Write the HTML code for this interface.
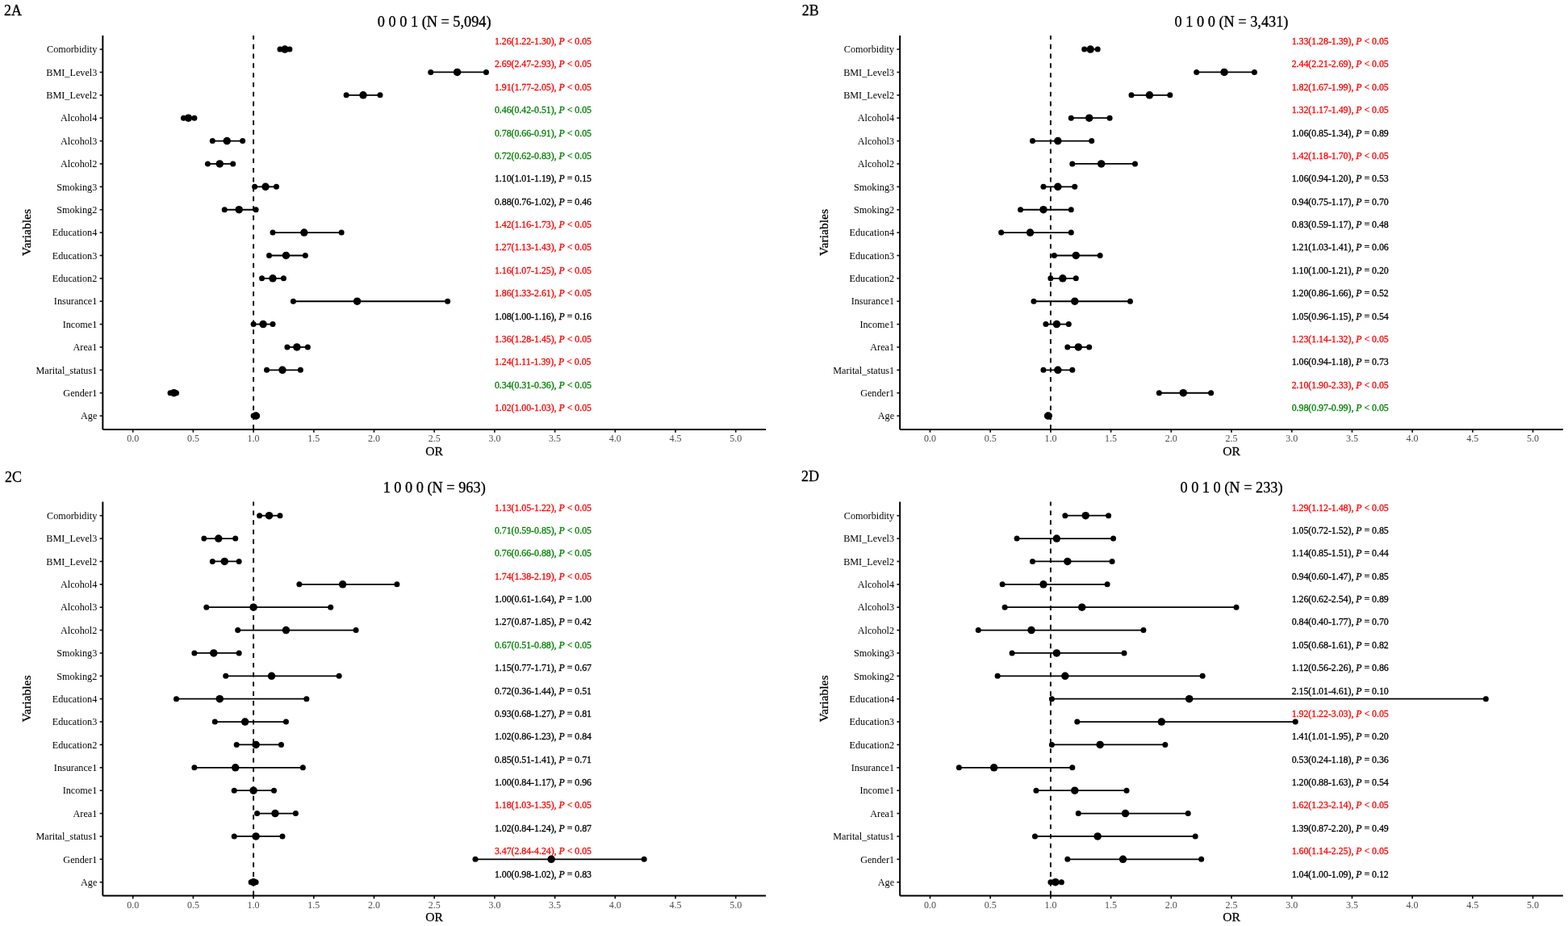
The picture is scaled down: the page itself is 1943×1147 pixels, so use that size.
<!DOCTYPE html><html><head><meta charset="utf-8"><title>Forest plots</title><style>html,body{margin:0;padding:0;background:#fff;}svg{display:block;}text{font-family:"Liberation Serif","Times New Roman",serif;stroke-width:0.3;}</style></head><body>
<svg width="1943" height="1147" viewBox="0 0 1943 1147">
<rect width="1943" height="1147" fill="#fff"/>
<g transform="translate(0,0)">
<text x="5.1" y="18.5" font-size="18" stroke="#000">2A</text>
<text x="538.2" y="32.6" font-size="18.3" text-anchor="middle" stroke="#000">0 0 0 1 (N = 5,094)</text>
<line x1="314.1" y1="531.9" x2="314.1" y2="43.9" stroke="#000" stroke-width="1.9" stroke-dasharray="5.89 5.89"/>
<line x1="123.6" y1="61.1" x2="127.35" y2="61.1" stroke="#111" stroke-width="1.6"/>
<text x="120.3" y="65.35" font-size="12.2" text-anchor="end">Comorbidity</text>
<line x1="123.6" y1="89.47" x2="127.35" y2="89.47" stroke="#111" stroke-width="1.6"/>
<text x="120.3" y="93.72" font-size="12.2" text-anchor="end">BMI_Level3</text>
<line x1="123.6" y1="117.85" x2="127.35" y2="117.85" stroke="#111" stroke-width="1.6"/>
<text x="120.3" y="122.1" font-size="12.2" text-anchor="end">BMI_Level2</text>
<line x1="123.6" y1="146.22" x2="127.35" y2="146.22" stroke="#111" stroke-width="1.6"/>
<text x="120.3" y="150.47" font-size="12.2" text-anchor="end">Alcohol4</text>
<line x1="123.6" y1="174.6" x2="127.35" y2="174.6" stroke="#111" stroke-width="1.6"/>
<text x="120.3" y="178.85" font-size="12.2" text-anchor="end">Alcohol3</text>
<line x1="123.6" y1="202.97" x2="127.35" y2="202.97" stroke="#111" stroke-width="1.6"/>
<text x="120.3" y="207.22" font-size="12.2" text-anchor="end">Alcohol2</text>
<line x1="123.6" y1="231.35" x2="127.35" y2="231.35" stroke="#111" stroke-width="1.6"/>
<text x="120.3" y="235.6" font-size="12.2" text-anchor="end">Smoking3</text>
<line x1="123.6" y1="259.73" x2="127.35" y2="259.73" stroke="#111" stroke-width="1.6"/>
<text x="120.3" y="263.98" font-size="12.2" text-anchor="end">Smoking2</text>
<line x1="123.6" y1="288.1" x2="127.35" y2="288.1" stroke="#111" stroke-width="1.6"/>
<text x="120.3" y="292.35" font-size="12.2" text-anchor="end">Education4</text>
<line x1="123.6" y1="316.48" x2="127.35" y2="316.48" stroke="#111" stroke-width="1.6"/>
<text x="120.3" y="320.73" font-size="12.2" text-anchor="end">Education3</text>
<line x1="123.6" y1="344.85" x2="127.35" y2="344.85" stroke="#111" stroke-width="1.6"/>
<text x="120.3" y="349.1" font-size="12.2" text-anchor="end">Education2</text>
<line x1="123.6" y1="373.23" x2="127.35" y2="373.23" stroke="#111" stroke-width="1.6"/>
<text x="120.3" y="377.48" font-size="12.2" text-anchor="end">Insurance1</text>
<line x1="123.6" y1="401.6" x2="127.35" y2="401.6" stroke="#111" stroke-width="1.6"/>
<text x="120.3" y="405.85" font-size="12.2" text-anchor="end">Income1</text>
<line x1="123.6" y1="429.98" x2="127.35" y2="429.98" stroke="#111" stroke-width="1.6"/>
<text x="120.3" y="434.23" font-size="12.2" text-anchor="end">Area1</text>
<line x1="123.6" y1="458.35" x2="127.35" y2="458.35" stroke="#111" stroke-width="1.6"/>
<text x="120.3" y="462.6" font-size="12.2" text-anchor="end">Marital_status1</text>
<line x1="123.6" y1="486.73" x2="127.35" y2="486.73" stroke="#111" stroke-width="1.6"/>
<text x="120.3" y="490.98" font-size="12.2" text-anchor="end">Gender1</text>
<line x1="123.6" y1="515.1" x2="127.35" y2="515.1" stroke="#111" stroke-width="1.6"/>
<text x="120.3" y="519.35" font-size="12.2" text-anchor="end">Age</text>
<line x1="164.7" y1="531.9" x2="164.7" y2="535.65" stroke="#111" stroke-width="1.7"/>
<text x="164.7" y="547.3" font-size="12" text-anchor="middle" fill="#4d4d4d">0.0</text>
<line x1="239.4" y1="531.9" x2="239.4" y2="535.65" stroke="#111" stroke-width="1.7"/>
<text x="239.4" y="547.3" font-size="12" text-anchor="middle" fill="#4d4d4d">0.5</text>
<line x1="314.1" y1="531.9" x2="314.1" y2="535.65" stroke="#111" stroke-width="1.7"/>
<text x="314.1" y="547.3" font-size="12" text-anchor="middle" fill="#4d4d4d">1.0</text>
<line x1="388.8" y1="531.9" x2="388.8" y2="535.65" stroke="#111" stroke-width="1.7"/>
<text x="388.8" y="547.3" font-size="12" text-anchor="middle" fill="#4d4d4d">1.5</text>
<line x1="463.5" y1="531.9" x2="463.5" y2="535.65" stroke="#111" stroke-width="1.7"/>
<text x="463.5" y="547.3" font-size="12" text-anchor="middle" fill="#4d4d4d">2.0</text>
<line x1="538.2" y1="531.9" x2="538.2" y2="535.65" stroke="#111" stroke-width="1.7"/>
<text x="538.2" y="547.3" font-size="12" text-anchor="middle" fill="#4d4d4d">2.5</text>
<line x1="612.9" y1="531.9" x2="612.9" y2="535.65" stroke="#111" stroke-width="1.7"/>
<text x="612.9" y="547.3" font-size="12" text-anchor="middle" fill="#4d4d4d">3.0</text>
<line x1="687.6" y1="531.9" x2="687.6" y2="535.65" stroke="#111" stroke-width="1.7"/>
<text x="687.6" y="547.3" font-size="12" text-anchor="middle" fill="#4d4d4d">3.5</text>
<line x1="762.3" y1="531.9" x2="762.3" y2="535.65" stroke="#111" stroke-width="1.7"/>
<text x="762.3" y="547.3" font-size="12" text-anchor="middle" fill="#4d4d4d">4.0</text>
<line x1="837" y1="531.9" x2="837" y2="535.65" stroke="#111" stroke-width="1.7"/>
<text x="837" y="547.3" font-size="12" text-anchor="middle" fill="#4d4d4d">4.5</text>
<line x1="911.7" y1="531.9" x2="911.7" y2="535.65" stroke="#111" stroke-width="1.7"/>
<text x="911.7" y="547.3" font-size="12" text-anchor="middle" fill="#4d4d4d">5.0</text>
<line x1="127.35" y1="43.9" x2="127.35" y2="531.9" stroke="#000" stroke-width="2.0"/>
<line x1="127.35" y1="531.9" x2="949.05" y2="531.9" stroke="#000" stroke-width="2.0"/>
<text x="538.2" y="563.8" font-size="15.6" text-anchor="middle" stroke="#000">OR</text>
<text transform="translate(37.9,287.9) rotate(-90)" x="0" y="0" font-size="15.6" text-anchor="middle" stroke="#000">Variables</text>
<text x="612.9" y="55" font-size="11.8" fill="#ff0000" stroke="#ff0000" stroke-width="0.2">1.26(1.22-1.30), <tspan font-style="italic">P</tspan> &lt; 0.05</text>
<text x="612.9" y="83.38" font-size="11.8" fill="#ff0000" stroke="#ff0000" stroke-width="0.2">2.69(2.47-2.93), <tspan font-style="italic">P</tspan> &lt; 0.05</text>
<text x="612.9" y="111.75" font-size="11.8" fill="#ff0000" stroke="#ff0000" stroke-width="0.2">1.91(1.77-2.05), <tspan font-style="italic">P</tspan> &lt; 0.05</text>
<text x="612.9" y="140.12" font-size="11.8" fill="#008000" stroke="#008000" stroke-width="0.2">0.46(0.42-0.51), <tspan font-style="italic">P</tspan> &lt; 0.05</text>
<text x="612.9" y="168.5" font-size="11.8" fill="#008000" stroke="#008000" stroke-width="0.2">0.78(0.66-0.91), <tspan font-style="italic">P</tspan> &lt; 0.05</text>
<text x="612.9" y="196.88" font-size="11.8" fill="#008000" stroke="#008000" stroke-width="0.2">0.72(0.62-0.83), <tspan font-style="italic">P</tspan> &lt; 0.05</text>
<text x="612.9" y="225.25" font-size="11.8" fill="#000000" stroke="#000000" stroke-width="0.2">1.10(1.01-1.19), <tspan font-style="italic">P</tspan> = 0.15</text>
<text x="612.9" y="253.63" font-size="11.8" fill="#000000" stroke="#000000" stroke-width="0.2">0.88(0.76-1.02), <tspan font-style="italic">P</tspan> = 0.46</text>
<text x="612.9" y="282" font-size="11.8" fill="#ff0000" stroke="#ff0000" stroke-width="0.2">1.42(1.16-1.73), <tspan font-style="italic">P</tspan> &lt; 0.05</text>
<text x="612.9" y="310.38" font-size="11.8" fill="#ff0000" stroke="#ff0000" stroke-width="0.2">1.27(1.13-1.43), <tspan font-style="italic">P</tspan> &lt; 0.05</text>
<text x="612.9" y="338.75" font-size="11.8" fill="#ff0000" stroke="#ff0000" stroke-width="0.2">1.16(1.07-1.25), <tspan font-style="italic">P</tspan> &lt; 0.05</text>
<text x="612.9" y="367.12" font-size="11.8" fill="#ff0000" stroke="#ff0000" stroke-width="0.2">1.86(1.33-2.61), <tspan font-style="italic">P</tspan> &lt; 0.05</text>
<text x="612.9" y="395.5" font-size="11.8" fill="#000000" stroke="#000000" stroke-width="0.2">1.08(1.00-1.16), <tspan font-style="italic">P</tspan> = 0.16</text>
<text x="612.9" y="423.88" font-size="11.8" fill="#ff0000" stroke="#ff0000" stroke-width="0.2">1.36(1.28-1.45), <tspan font-style="italic">P</tspan> &lt; 0.05</text>
<text x="612.9" y="452.25" font-size="11.8" fill="#ff0000" stroke="#ff0000" stroke-width="0.2">1.24(1.11-1.39), <tspan font-style="italic">P</tspan> &lt; 0.05</text>
<text x="612.9" y="480.62" font-size="11.8" fill="#008000" stroke="#008000" stroke-width="0.2">0.34(0.31-0.36), <tspan font-style="italic">P</tspan> &lt; 0.05</text>
<text x="612.9" y="509" font-size="11.8" fill="#ff0000" stroke="#ff0000" stroke-width="0.2">1.02(1.00-1.03), <tspan font-style="italic">P</tspan> &lt; 0.05</text>
<line x1="346.97" y1="61.1" x2="358.92" y2="61.1" stroke="#000" stroke-width="1.8"/>
<circle cx="346.97" cy="61.1" r="3.5"/><circle cx="358.92" cy="61.1" r="3.5"/>
<circle cx="352.94" cy="61.1" r="4.75"/>
<line x1="533.72" y1="89.47" x2="602.44" y2="89.47" stroke="#000" stroke-width="1.8"/>
<circle cx="533.72" cy="89.47" r="3.5"/><circle cx="602.44" cy="89.47" r="3.5"/>
<circle cx="566.59" cy="89.47" r="4.75"/>
<line x1="429.14" y1="117.85" x2="470.97" y2="117.85" stroke="#000" stroke-width="1.8"/>
<circle cx="429.14" cy="117.85" r="3.5"/><circle cx="470.97" cy="117.85" r="3.5"/>
<circle cx="450.05" cy="117.85" r="4.75"/>
<line x1="227.45" y1="146.22" x2="240.89" y2="146.22" stroke="#000" stroke-width="1.8"/>
<circle cx="227.45" cy="146.22" r="3.5"/><circle cx="240.89" cy="146.22" r="3.5"/>
<circle cx="233.42" cy="146.22" r="4.75"/>
<line x1="263.3" y1="174.6" x2="300.65" y2="174.6" stroke="#000" stroke-width="1.8"/>
<circle cx="263.3" cy="174.6" r="3.5"/><circle cx="300.65" cy="174.6" r="3.5"/>
<circle cx="281.23" cy="174.6" r="4.75"/>
<line x1="257.33" y1="202.97" x2="288.7" y2="202.97" stroke="#000" stroke-width="1.8"/>
<circle cx="257.33" cy="202.97" r="3.5"/><circle cx="288.7" cy="202.97" r="3.5"/>
<circle cx="272.27" cy="202.97" r="4.75"/>
<line x1="315.59" y1="231.35" x2="342.49" y2="231.35" stroke="#000" stroke-width="1.8"/>
<circle cx="315.59" cy="231.35" r="3.5"/><circle cx="342.49" cy="231.35" r="3.5"/>
<circle cx="329.04" cy="231.35" r="4.75"/>
<line x1="278.24" y1="259.73" x2="317.09" y2="259.73" stroke="#000" stroke-width="1.8"/>
<circle cx="278.24" cy="259.73" r="3.5"/><circle cx="317.09" cy="259.73" r="3.5"/>
<circle cx="296.17" cy="259.73" r="4.75"/>
<line x1="338" y1="288.1" x2="423.16" y2="288.1" stroke="#000" stroke-width="1.8"/>
<circle cx="338" cy="288.1" r="3.5"/><circle cx="423.16" cy="288.1" r="3.5"/>
<circle cx="376.85" cy="288.1" r="4.75"/>
<line x1="333.52" y1="316.48" x2="378.34" y2="316.48" stroke="#000" stroke-width="1.8"/>
<circle cx="333.52" cy="316.48" r="3.5"/><circle cx="378.34" cy="316.48" r="3.5"/>
<circle cx="354.44" cy="316.48" r="4.75"/>
<line x1="324.56" y1="344.85" x2="351.45" y2="344.85" stroke="#000" stroke-width="1.8"/>
<circle cx="324.56" cy="344.85" r="3.5"/><circle cx="351.45" cy="344.85" r="3.5"/>
<circle cx="338" cy="344.85" r="4.75"/>
<line x1="363.4" y1="373.23" x2="554.63" y2="373.23" stroke="#000" stroke-width="1.8"/>
<circle cx="363.4" cy="373.23" r="3.5"/><circle cx="554.63" cy="373.23" r="3.5"/>
<circle cx="442.58" cy="373.23" r="4.75"/>
<line x1="314.1" y1="401.6" x2="338" y2="401.6" stroke="#000" stroke-width="1.8"/>
<circle cx="314.1" cy="401.6" r="3.5"/><circle cx="338" cy="401.6" r="3.5"/>
<circle cx="326.05" cy="401.6" r="4.75"/>
<line x1="355.93" y1="429.98" x2="381.33" y2="429.98" stroke="#000" stroke-width="1.8"/>
<circle cx="355.93" cy="429.98" r="3.5"/><circle cx="381.33" cy="429.98" r="3.5"/>
<circle cx="367.88" cy="429.98" r="4.75"/>
<line x1="330.53" y1="458.35" x2="372.37" y2="458.35" stroke="#000" stroke-width="1.8"/>
<circle cx="330.53" cy="458.35" r="3.5"/><circle cx="372.37" cy="458.35" r="3.5"/>
<circle cx="349.96" cy="458.35" r="4.75"/>
<line x1="211.01" y1="486.73" x2="218.48" y2="486.73" stroke="#000" stroke-width="1.8"/>
<circle cx="211.01" cy="486.73" r="3.5"/><circle cx="218.48" cy="486.73" r="3.5"/>
<circle cx="215.5" cy="486.73" r="4.75"/>
<line x1="314.1" y1="515.1" x2="318.58" y2="515.1" stroke="#000" stroke-width="1.8"/>
<circle cx="314.1" cy="515.1" r="3.5"/><circle cx="318.58" cy="515.1" r="3.5"/>
<circle cx="317.09" cy="515.1" r="4.75"/>
</g>
<g transform="translate(987.8,0)">
<text x="5.9" y="18.5" font-size="18" stroke="#000">2B</text>
<text x="538.2" y="32.6" font-size="18.3" text-anchor="middle" stroke="#000">0 1 0 0 (N = 3,431)</text>
<line x1="314.1" y1="531.9" x2="314.1" y2="43.9" stroke="#000" stroke-width="1.9" stroke-dasharray="5.89 5.89"/>
<line x1="123.6" y1="61.1" x2="127.35" y2="61.1" stroke="#111" stroke-width="1.6"/>
<text x="120.3" y="65.35" font-size="12.2" text-anchor="end">Comorbidity</text>
<line x1="123.6" y1="89.47" x2="127.35" y2="89.47" stroke="#111" stroke-width="1.6"/>
<text x="120.3" y="93.72" font-size="12.2" text-anchor="end">BMI_Level3</text>
<line x1="123.6" y1="117.85" x2="127.35" y2="117.85" stroke="#111" stroke-width="1.6"/>
<text x="120.3" y="122.1" font-size="12.2" text-anchor="end">BMI_Level2</text>
<line x1="123.6" y1="146.22" x2="127.35" y2="146.22" stroke="#111" stroke-width="1.6"/>
<text x="120.3" y="150.47" font-size="12.2" text-anchor="end">Alcohol4</text>
<line x1="123.6" y1="174.6" x2="127.35" y2="174.6" stroke="#111" stroke-width="1.6"/>
<text x="120.3" y="178.85" font-size="12.2" text-anchor="end">Alcohol3</text>
<line x1="123.6" y1="202.97" x2="127.35" y2="202.97" stroke="#111" stroke-width="1.6"/>
<text x="120.3" y="207.22" font-size="12.2" text-anchor="end">Alcohol2</text>
<line x1="123.6" y1="231.35" x2="127.35" y2="231.35" stroke="#111" stroke-width="1.6"/>
<text x="120.3" y="235.6" font-size="12.2" text-anchor="end">Smoking3</text>
<line x1="123.6" y1="259.73" x2="127.35" y2="259.73" stroke="#111" stroke-width="1.6"/>
<text x="120.3" y="263.98" font-size="12.2" text-anchor="end">Smoking2</text>
<line x1="123.6" y1="288.1" x2="127.35" y2="288.1" stroke="#111" stroke-width="1.6"/>
<text x="120.3" y="292.35" font-size="12.2" text-anchor="end">Education4</text>
<line x1="123.6" y1="316.48" x2="127.35" y2="316.48" stroke="#111" stroke-width="1.6"/>
<text x="120.3" y="320.73" font-size="12.2" text-anchor="end">Education3</text>
<line x1="123.6" y1="344.85" x2="127.35" y2="344.85" stroke="#111" stroke-width="1.6"/>
<text x="120.3" y="349.1" font-size="12.2" text-anchor="end">Education2</text>
<line x1="123.6" y1="373.23" x2="127.35" y2="373.23" stroke="#111" stroke-width="1.6"/>
<text x="120.3" y="377.48" font-size="12.2" text-anchor="end">Insurance1</text>
<line x1="123.6" y1="401.6" x2="127.35" y2="401.6" stroke="#111" stroke-width="1.6"/>
<text x="120.3" y="405.85" font-size="12.2" text-anchor="end">Income1</text>
<line x1="123.6" y1="429.98" x2="127.35" y2="429.98" stroke="#111" stroke-width="1.6"/>
<text x="120.3" y="434.23" font-size="12.2" text-anchor="end">Area1</text>
<line x1="123.6" y1="458.35" x2="127.35" y2="458.35" stroke="#111" stroke-width="1.6"/>
<text x="120.3" y="462.6" font-size="12.2" text-anchor="end">Marital_status1</text>
<line x1="123.6" y1="486.73" x2="127.35" y2="486.73" stroke="#111" stroke-width="1.6"/>
<text x="120.3" y="490.98" font-size="12.2" text-anchor="end">Gender1</text>
<line x1="123.6" y1="515.1" x2="127.35" y2="515.1" stroke="#111" stroke-width="1.6"/>
<text x="120.3" y="519.35" font-size="12.2" text-anchor="end">Age</text>
<line x1="164.7" y1="531.9" x2="164.7" y2="535.65" stroke="#111" stroke-width="1.7"/>
<text x="164.7" y="547.3" font-size="12" text-anchor="middle" fill="#4d4d4d">0.0</text>
<line x1="239.4" y1="531.9" x2="239.4" y2="535.65" stroke="#111" stroke-width="1.7"/>
<text x="239.4" y="547.3" font-size="12" text-anchor="middle" fill="#4d4d4d">0.5</text>
<line x1="314.1" y1="531.9" x2="314.1" y2="535.65" stroke="#111" stroke-width="1.7"/>
<text x="314.1" y="547.3" font-size="12" text-anchor="middle" fill="#4d4d4d">1.0</text>
<line x1="388.8" y1="531.9" x2="388.8" y2="535.65" stroke="#111" stroke-width="1.7"/>
<text x="388.8" y="547.3" font-size="12" text-anchor="middle" fill="#4d4d4d">1.5</text>
<line x1="463.5" y1="531.9" x2="463.5" y2="535.65" stroke="#111" stroke-width="1.7"/>
<text x="463.5" y="547.3" font-size="12" text-anchor="middle" fill="#4d4d4d">2.0</text>
<line x1="538.2" y1="531.9" x2="538.2" y2="535.65" stroke="#111" stroke-width="1.7"/>
<text x="538.2" y="547.3" font-size="12" text-anchor="middle" fill="#4d4d4d">2.5</text>
<line x1="612.9" y1="531.9" x2="612.9" y2="535.65" stroke="#111" stroke-width="1.7"/>
<text x="612.9" y="547.3" font-size="12" text-anchor="middle" fill="#4d4d4d">3.0</text>
<line x1="687.6" y1="531.9" x2="687.6" y2="535.65" stroke="#111" stroke-width="1.7"/>
<text x="687.6" y="547.3" font-size="12" text-anchor="middle" fill="#4d4d4d">3.5</text>
<line x1="762.3" y1="531.9" x2="762.3" y2="535.65" stroke="#111" stroke-width="1.7"/>
<text x="762.3" y="547.3" font-size="12" text-anchor="middle" fill="#4d4d4d">4.0</text>
<line x1="837" y1="531.9" x2="837" y2="535.65" stroke="#111" stroke-width="1.7"/>
<text x="837" y="547.3" font-size="12" text-anchor="middle" fill="#4d4d4d">4.5</text>
<line x1="911.7" y1="531.9" x2="911.7" y2="535.65" stroke="#111" stroke-width="1.7"/>
<text x="911.7" y="547.3" font-size="12" text-anchor="middle" fill="#4d4d4d">5.0</text>
<line x1="127.35" y1="43.9" x2="127.35" y2="531.9" stroke="#000" stroke-width="2.0"/>
<line x1="127.35" y1="531.9" x2="949.05" y2="531.9" stroke="#000" stroke-width="2.0"/>
<text x="538.2" y="563.8" font-size="15.6" text-anchor="middle" stroke="#000">OR</text>
<text transform="translate(37.9,287.9) rotate(-90)" x="0" y="0" font-size="15.6" text-anchor="middle" stroke="#000">Variables</text>
<text x="612.9" y="55" font-size="11.8" fill="#ff0000" stroke="#ff0000" stroke-width="0.2">1.33(1.28-1.39), <tspan font-style="italic">P</tspan> &lt; 0.05</text>
<text x="612.9" y="83.38" font-size="11.8" fill="#ff0000" stroke="#ff0000" stroke-width="0.2">2.44(2.21-2.69), <tspan font-style="italic">P</tspan> &lt; 0.05</text>
<text x="612.9" y="111.75" font-size="11.8" fill="#ff0000" stroke="#ff0000" stroke-width="0.2">1.82(1.67-1.99), <tspan font-style="italic">P</tspan> &lt; 0.05</text>
<text x="612.9" y="140.12" font-size="11.8" fill="#ff0000" stroke="#ff0000" stroke-width="0.2">1.32(1.17-1.49), <tspan font-style="italic">P</tspan> &lt; 0.05</text>
<text x="612.9" y="168.5" font-size="11.8" fill="#000000" stroke="#000000" stroke-width="0.2">1.06(0.85-1.34), <tspan font-style="italic">P</tspan> = 0.89</text>
<text x="612.9" y="196.88" font-size="11.8" fill="#ff0000" stroke="#ff0000" stroke-width="0.2">1.42(1.18-1.70), <tspan font-style="italic">P</tspan> &lt; 0.05</text>
<text x="612.9" y="225.25" font-size="11.8" fill="#000000" stroke="#000000" stroke-width="0.2">1.06(0.94-1.20), <tspan font-style="italic">P</tspan> = 0.53</text>
<text x="612.9" y="253.63" font-size="11.8" fill="#000000" stroke="#000000" stroke-width="0.2">0.94(0.75-1.17), <tspan font-style="italic">P</tspan> = 0.70</text>
<text x="612.9" y="282" font-size="11.8" fill="#000000" stroke="#000000" stroke-width="0.2">0.83(0.59-1.17), <tspan font-style="italic">P</tspan> = 0.48</text>
<text x="612.9" y="310.38" font-size="11.8" fill="#000000" stroke="#000000" stroke-width="0.2">1.21(1.03-1.41), <tspan font-style="italic">P</tspan> = 0.06</text>
<text x="612.9" y="338.75" font-size="11.8" fill="#000000" stroke="#000000" stroke-width="0.2">1.10(1.00-1.21), <tspan font-style="italic">P</tspan> = 0.20</text>
<text x="612.9" y="367.12" font-size="11.8" fill="#000000" stroke="#000000" stroke-width="0.2">1.20(0.86-1.66), <tspan font-style="italic">P</tspan> = 0.52</text>
<text x="612.9" y="395.5" font-size="11.8" fill="#000000" stroke="#000000" stroke-width="0.2">1.05(0.96-1.15), <tspan font-style="italic">P</tspan> = 0.54</text>
<text x="612.9" y="423.88" font-size="11.8" fill="#ff0000" stroke="#ff0000" stroke-width="0.2">1.23(1.14-1.32), <tspan font-style="italic">P</tspan> &lt; 0.05</text>
<text x="612.9" y="452.25" font-size="11.8" fill="#000000" stroke="#000000" stroke-width="0.2">1.06(0.94-1.18), <tspan font-style="italic">P</tspan> = 0.73</text>
<text x="612.9" y="480.62" font-size="11.8" fill="#ff0000" stroke="#ff0000" stroke-width="0.2">2.10(1.90-2.33), <tspan font-style="italic">P</tspan> &lt; 0.05</text>
<text x="612.9" y="509" font-size="11.8" fill="#008000" stroke="#008000" stroke-width="0.2">0.98(0.97-0.99), <tspan font-style="italic">P</tspan> &lt; 0.05</text>
<line x1="355.93" y1="61.1" x2="372.37" y2="61.1" stroke="#000" stroke-width="1.8"/>
<circle cx="355.93" cy="61.1" r="3.5"/><circle cx="372.37" cy="61.1" r="3.5"/>
<circle cx="363.4" cy="61.1" r="4.75"/>
<line x1="494.87" y1="89.47" x2="566.59" y2="89.47" stroke="#000" stroke-width="1.8"/>
<circle cx="494.87" cy="89.47" r="3.5"/><circle cx="566.59" cy="89.47" r="3.5"/>
<circle cx="529.24" cy="89.47" r="4.75"/>
<line x1="414.2" y1="117.85" x2="462.01" y2="117.85" stroke="#000" stroke-width="1.8"/>
<circle cx="414.2" cy="117.85" r="3.5"/><circle cx="462.01" cy="117.85" r="3.5"/>
<circle cx="436.61" cy="117.85" r="4.75"/>
<line x1="339.5" y1="146.22" x2="387.31" y2="146.22" stroke="#000" stroke-width="1.8"/>
<circle cx="339.5" cy="146.22" r="3.5"/><circle cx="387.31" cy="146.22" r="3.5"/>
<circle cx="361.91" cy="146.22" r="4.75"/>
<line x1="291.69" y1="174.6" x2="364.9" y2="174.6" stroke="#000" stroke-width="1.8"/>
<circle cx="291.69" cy="174.6" r="3.5"/><circle cx="364.9" cy="174.6" r="3.5"/>
<circle cx="323.06" cy="174.6" r="4.75"/>
<line x1="340.99" y1="202.97" x2="418.68" y2="202.97" stroke="#000" stroke-width="1.8"/>
<circle cx="340.99" cy="202.97" r="3.5"/><circle cx="418.68" cy="202.97" r="3.5"/>
<circle cx="376.85" cy="202.97" r="4.75"/>
<line x1="305.14" y1="231.35" x2="343.98" y2="231.35" stroke="#000" stroke-width="1.8"/>
<circle cx="305.14" cy="231.35" r="3.5"/><circle cx="343.98" cy="231.35" r="3.5"/>
<circle cx="323.06" cy="231.35" r="4.75"/>
<line x1="276.75" y1="259.73" x2="339.5" y2="259.73" stroke="#000" stroke-width="1.8"/>
<circle cx="276.75" cy="259.73" r="3.5"/><circle cx="339.5" cy="259.73" r="3.5"/>
<circle cx="305.14" cy="259.73" r="4.75"/>
<line x1="252.85" y1="288.1" x2="339.5" y2="288.1" stroke="#000" stroke-width="1.8"/>
<circle cx="252.85" cy="288.1" r="3.5"/><circle cx="339.5" cy="288.1" r="3.5"/>
<circle cx="288.7" cy="288.1" r="4.75"/>
<line x1="318.58" y1="316.48" x2="375.35" y2="316.48" stroke="#000" stroke-width="1.8"/>
<circle cx="318.58" cy="316.48" r="3.5"/><circle cx="375.35" cy="316.48" r="3.5"/>
<circle cx="345.47" cy="316.48" r="4.75"/>
<line x1="314.1" y1="344.85" x2="345.47" y2="344.85" stroke="#000" stroke-width="1.8"/>
<circle cx="314.1" cy="344.85" r="3.5"/><circle cx="345.47" cy="344.85" r="3.5"/>
<circle cx="329.04" cy="344.85" r="4.75"/>
<line x1="293.18" y1="373.23" x2="412.7" y2="373.23" stroke="#000" stroke-width="1.8"/>
<circle cx="293.18" cy="373.23" r="3.5"/><circle cx="412.7" cy="373.23" r="3.5"/>
<circle cx="343.98" cy="373.23" r="4.75"/>
<line x1="308.12" y1="401.6" x2="336.51" y2="401.6" stroke="#000" stroke-width="1.8"/>
<circle cx="308.12" cy="401.6" r="3.5"/><circle cx="336.51" cy="401.6" r="3.5"/>
<circle cx="321.57" cy="401.6" r="4.75"/>
<line x1="335.02" y1="429.98" x2="361.91" y2="429.98" stroke="#000" stroke-width="1.8"/>
<circle cx="335.02" cy="429.98" r="3.5"/><circle cx="361.91" cy="429.98" r="3.5"/>
<circle cx="348.46" cy="429.98" r="4.75"/>
<line x1="305.14" y1="458.35" x2="340.99" y2="458.35" stroke="#000" stroke-width="1.8"/>
<circle cx="305.14" cy="458.35" r="3.5"/><circle cx="340.99" cy="458.35" r="3.5"/>
<circle cx="323.06" cy="458.35" r="4.75"/>
<line x1="448.56" y1="486.73" x2="512.8" y2="486.73" stroke="#000" stroke-width="1.8"/>
<circle cx="448.56" cy="486.73" r="3.5"/><circle cx="512.8" cy="486.73" r="3.5"/>
<circle cx="478.44" cy="486.73" r="4.75"/>
<line x1="309.62" y1="515.1" x2="312.61" y2="515.1" stroke="#000" stroke-width="1.8"/>
<circle cx="309.62" cy="515.1" r="3.5"/><circle cx="312.61" cy="515.1" r="3.5"/>
<circle cx="311.11" cy="515.1" r="4.75"/>
</g>
<g transform="translate(0,577.6)">
<text x="5.9" y="19" font-size="18" stroke="#000">2C</text>
<text x="538.2" y="32.6" font-size="18.3" text-anchor="middle" stroke="#000">1 0 0 0 (N = 963)</text>
<line x1="314.1" y1="531.9" x2="314.1" y2="43.9" stroke="#000" stroke-width="1.9" stroke-dasharray="5.89 5.89"/>
<line x1="123.6" y1="61.1" x2="127.35" y2="61.1" stroke="#111" stroke-width="1.6"/>
<text x="120.3" y="65.35" font-size="12.2" text-anchor="end">Comorbidity</text>
<line x1="123.6" y1="89.47" x2="127.35" y2="89.47" stroke="#111" stroke-width="1.6"/>
<text x="120.3" y="93.72" font-size="12.2" text-anchor="end">BMI_Level3</text>
<line x1="123.6" y1="117.85" x2="127.35" y2="117.85" stroke="#111" stroke-width="1.6"/>
<text x="120.3" y="122.1" font-size="12.2" text-anchor="end">BMI_Level2</text>
<line x1="123.6" y1="146.22" x2="127.35" y2="146.22" stroke="#111" stroke-width="1.6"/>
<text x="120.3" y="150.47" font-size="12.2" text-anchor="end">Alcohol4</text>
<line x1="123.6" y1="174.6" x2="127.35" y2="174.6" stroke="#111" stroke-width="1.6"/>
<text x="120.3" y="178.85" font-size="12.2" text-anchor="end">Alcohol3</text>
<line x1="123.6" y1="202.97" x2="127.35" y2="202.97" stroke="#111" stroke-width="1.6"/>
<text x="120.3" y="207.22" font-size="12.2" text-anchor="end">Alcohol2</text>
<line x1="123.6" y1="231.35" x2="127.35" y2="231.35" stroke="#111" stroke-width="1.6"/>
<text x="120.3" y="235.6" font-size="12.2" text-anchor="end">Smoking3</text>
<line x1="123.6" y1="259.73" x2="127.35" y2="259.73" stroke="#111" stroke-width="1.6"/>
<text x="120.3" y="263.98" font-size="12.2" text-anchor="end">Smoking2</text>
<line x1="123.6" y1="288.1" x2="127.35" y2="288.1" stroke="#111" stroke-width="1.6"/>
<text x="120.3" y="292.35" font-size="12.2" text-anchor="end">Education4</text>
<line x1="123.6" y1="316.48" x2="127.35" y2="316.48" stroke="#111" stroke-width="1.6"/>
<text x="120.3" y="320.73" font-size="12.2" text-anchor="end">Education3</text>
<line x1="123.6" y1="344.85" x2="127.35" y2="344.85" stroke="#111" stroke-width="1.6"/>
<text x="120.3" y="349.1" font-size="12.2" text-anchor="end">Education2</text>
<line x1="123.6" y1="373.23" x2="127.35" y2="373.23" stroke="#111" stroke-width="1.6"/>
<text x="120.3" y="377.48" font-size="12.2" text-anchor="end">Insurance1</text>
<line x1="123.6" y1="401.6" x2="127.35" y2="401.6" stroke="#111" stroke-width="1.6"/>
<text x="120.3" y="405.85" font-size="12.2" text-anchor="end">Income1</text>
<line x1="123.6" y1="429.98" x2="127.35" y2="429.98" stroke="#111" stroke-width="1.6"/>
<text x="120.3" y="434.23" font-size="12.2" text-anchor="end">Area1</text>
<line x1="123.6" y1="458.35" x2="127.35" y2="458.35" stroke="#111" stroke-width="1.6"/>
<text x="120.3" y="462.6" font-size="12.2" text-anchor="end">Marital_status1</text>
<line x1="123.6" y1="486.73" x2="127.35" y2="486.73" stroke="#111" stroke-width="1.6"/>
<text x="120.3" y="490.98" font-size="12.2" text-anchor="end">Gender1</text>
<line x1="123.6" y1="515.1" x2="127.35" y2="515.1" stroke="#111" stroke-width="1.6"/>
<text x="120.3" y="519.35" font-size="12.2" text-anchor="end">Age</text>
<line x1="164.7" y1="531.9" x2="164.7" y2="535.65" stroke="#111" stroke-width="1.7"/>
<text x="164.7" y="547.3" font-size="12" text-anchor="middle" fill="#4d4d4d">0.0</text>
<line x1="239.4" y1="531.9" x2="239.4" y2="535.65" stroke="#111" stroke-width="1.7"/>
<text x="239.4" y="547.3" font-size="12" text-anchor="middle" fill="#4d4d4d">0.5</text>
<line x1="314.1" y1="531.9" x2="314.1" y2="535.65" stroke="#111" stroke-width="1.7"/>
<text x="314.1" y="547.3" font-size="12" text-anchor="middle" fill="#4d4d4d">1.0</text>
<line x1="388.8" y1="531.9" x2="388.8" y2="535.65" stroke="#111" stroke-width="1.7"/>
<text x="388.8" y="547.3" font-size="12" text-anchor="middle" fill="#4d4d4d">1.5</text>
<line x1="463.5" y1="531.9" x2="463.5" y2="535.65" stroke="#111" stroke-width="1.7"/>
<text x="463.5" y="547.3" font-size="12" text-anchor="middle" fill="#4d4d4d">2.0</text>
<line x1="538.2" y1="531.9" x2="538.2" y2="535.65" stroke="#111" stroke-width="1.7"/>
<text x="538.2" y="547.3" font-size="12" text-anchor="middle" fill="#4d4d4d">2.5</text>
<line x1="612.9" y1="531.9" x2="612.9" y2="535.65" stroke="#111" stroke-width="1.7"/>
<text x="612.9" y="547.3" font-size="12" text-anchor="middle" fill="#4d4d4d">3.0</text>
<line x1="687.6" y1="531.9" x2="687.6" y2="535.65" stroke="#111" stroke-width="1.7"/>
<text x="687.6" y="547.3" font-size="12" text-anchor="middle" fill="#4d4d4d">3.5</text>
<line x1="762.3" y1="531.9" x2="762.3" y2="535.65" stroke="#111" stroke-width="1.7"/>
<text x="762.3" y="547.3" font-size="12" text-anchor="middle" fill="#4d4d4d">4.0</text>
<line x1="837" y1="531.9" x2="837" y2="535.65" stroke="#111" stroke-width="1.7"/>
<text x="837" y="547.3" font-size="12" text-anchor="middle" fill="#4d4d4d">4.5</text>
<line x1="911.7" y1="531.9" x2="911.7" y2="535.65" stroke="#111" stroke-width="1.7"/>
<text x="911.7" y="547.3" font-size="12" text-anchor="middle" fill="#4d4d4d">5.0</text>
<line x1="127.35" y1="43.9" x2="127.35" y2="531.9" stroke="#000" stroke-width="2.0"/>
<line x1="127.35" y1="531.9" x2="949.05" y2="531.9" stroke="#000" stroke-width="2.0"/>
<text x="538.2" y="563.8" font-size="15.6" text-anchor="middle" stroke="#000">OR</text>
<text transform="translate(37.9,287.9) rotate(-90)" x="0" y="0" font-size="15.6" text-anchor="middle" stroke="#000">Variables</text>
<text x="612.9" y="55" font-size="11.8" fill="#ff0000" stroke="#ff0000" stroke-width="0.2">1.13(1.05-1.22), <tspan font-style="italic">P</tspan> &lt; 0.05</text>
<text x="612.9" y="83.38" font-size="11.8" fill="#008000" stroke="#008000" stroke-width="0.2">0.71(0.59-0.85), <tspan font-style="italic">P</tspan> &lt; 0.05</text>
<text x="612.9" y="111.75" font-size="11.8" fill="#008000" stroke="#008000" stroke-width="0.2">0.76(0.66-0.88), <tspan font-style="italic">P</tspan> &lt; 0.05</text>
<text x="612.9" y="140.12" font-size="11.8" fill="#ff0000" stroke="#ff0000" stroke-width="0.2">1.74(1.38-2.19), <tspan font-style="italic">P</tspan> &lt; 0.05</text>
<text x="612.9" y="168.5" font-size="11.8" fill="#000000" stroke="#000000" stroke-width="0.2">1.00(0.61-1.64), <tspan font-style="italic">P</tspan> = 1.00</text>
<text x="612.9" y="196.88" font-size="11.8" fill="#000000" stroke="#000000" stroke-width="0.2">1.27(0.87-1.85), <tspan font-style="italic">P</tspan> = 0.42</text>
<text x="612.9" y="225.25" font-size="11.8" fill="#008000" stroke="#008000" stroke-width="0.2">0.67(0.51-0.88), <tspan font-style="italic">P</tspan> &lt; 0.05</text>
<text x="612.9" y="253.63" font-size="11.8" fill="#000000" stroke="#000000" stroke-width="0.2">1.15(0.77-1.71), <tspan font-style="italic">P</tspan> = 0.67</text>
<text x="612.9" y="282" font-size="11.8" fill="#000000" stroke="#000000" stroke-width="0.2">0.72(0.36-1.44), <tspan font-style="italic">P</tspan> = 0.51</text>
<text x="612.9" y="310.38" font-size="11.8" fill="#000000" stroke="#000000" stroke-width="0.2">0.93(0.68-1.27), <tspan font-style="italic">P</tspan> = 0.81</text>
<text x="612.9" y="338.75" font-size="11.8" fill="#000000" stroke="#000000" stroke-width="0.2">1.02(0.86-1.23), <tspan font-style="italic">P</tspan> = 0.84</text>
<text x="612.9" y="367.12" font-size="11.8" fill="#000000" stroke="#000000" stroke-width="0.2">0.85(0.51-1.41), <tspan font-style="italic">P</tspan> = 0.71</text>
<text x="612.9" y="395.5" font-size="11.8" fill="#000000" stroke="#000000" stroke-width="0.2">1.00(0.84-1.17), <tspan font-style="italic">P</tspan> = 0.96</text>
<text x="612.9" y="423.88" font-size="11.8" fill="#ff0000" stroke="#ff0000" stroke-width="0.2">1.18(1.03-1.35), <tspan font-style="italic">P</tspan> &lt; 0.05</text>
<text x="612.9" y="452.25" font-size="11.8" fill="#000000" stroke="#000000" stroke-width="0.2">1.02(0.84-1.24), <tspan font-style="italic">P</tspan> = 0.87</text>
<text x="612.9" y="480.62" font-size="11.8" fill="#ff0000" stroke="#ff0000" stroke-width="0.2">3.47(2.84-4.24), <tspan font-style="italic">P</tspan> &lt; 0.05</text>
<text x="612.9" y="509" font-size="11.8" fill="#000000" stroke="#000000" stroke-width="0.2">1.00(0.98-1.02), <tspan font-style="italic">P</tspan> = 0.83</text>
<line x1="321.57" y1="61.1" x2="346.97" y2="61.1" stroke="#000" stroke-width="1.8"/>
<circle cx="321.57" cy="61.1" r="3.5"/><circle cx="346.97" cy="61.1" r="3.5"/>
<circle cx="333.52" cy="61.1" r="4.75"/>
<line x1="252.85" y1="89.47" x2="291.69" y2="89.47" stroke="#000" stroke-width="1.8"/>
<circle cx="252.85" cy="89.47" r="3.5"/><circle cx="291.69" cy="89.47" r="3.5"/>
<circle cx="270.77" cy="89.47" r="4.75"/>
<line x1="263.3" y1="117.85" x2="296.17" y2="117.85" stroke="#000" stroke-width="1.8"/>
<circle cx="263.3" cy="117.85" r="3.5"/><circle cx="296.17" cy="117.85" r="3.5"/>
<circle cx="278.24" cy="117.85" r="4.75"/>
<line x1="370.87" y1="146.22" x2="491.89" y2="146.22" stroke="#000" stroke-width="1.8"/>
<circle cx="370.87" cy="146.22" r="3.5"/><circle cx="491.89" cy="146.22" r="3.5"/>
<circle cx="424.66" cy="146.22" r="4.75"/>
<line x1="255.83" y1="174.6" x2="409.72" y2="174.6" stroke="#000" stroke-width="1.8"/>
<circle cx="255.83" cy="174.6" r="3.5"/><circle cx="409.72" cy="174.6" r="3.5"/>
<circle cx="314.1" cy="174.6" r="4.75"/>
<line x1="294.68" y1="202.97" x2="441.09" y2="202.97" stroke="#000" stroke-width="1.8"/>
<circle cx="294.68" cy="202.97" r="3.5"/><circle cx="441.09" cy="202.97" r="3.5"/>
<circle cx="354.44" cy="202.97" r="4.75"/>
<line x1="240.89" y1="231.35" x2="296.17" y2="231.35" stroke="#000" stroke-width="1.8"/>
<circle cx="240.89" cy="231.35" r="3.5"/><circle cx="296.17" cy="231.35" r="3.5"/>
<circle cx="264.8" cy="231.35" r="4.75"/>
<line x1="279.74" y1="259.73" x2="420.17" y2="259.73" stroke="#000" stroke-width="1.8"/>
<circle cx="279.74" cy="259.73" r="3.5"/><circle cx="420.17" cy="259.73" r="3.5"/>
<circle cx="336.51" cy="259.73" r="4.75"/>
<line x1="218.48" y1="288.1" x2="379.84" y2="288.1" stroke="#000" stroke-width="1.8"/>
<circle cx="218.48" cy="288.1" r="3.5"/><circle cx="379.84" cy="288.1" r="3.5"/>
<circle cx="272.27" cy="288.1" r="4.75"/>
<line x1="266.29" y1="316.48" x2="354.44" y2="316.48" stroke="#000" stroke-width="1.8"/>
<circle cx="266.29" cy="316.48" r="3.5"/><circle cx="354.44" cy="316.48" r="3.5"/>
<circle cx="303.64" cy="316.48" r="4.75"/>
<line x1="293.18" y1="344.85" x2="348.46" y2="344.85" stroke="#000" stroke-width="1.8"/>
<circle cx="293.18" cy="344.85" r="3.5"/><circle cx="348.46" cy="344.85" r="3.5"/>
<circle cx="317.09" cy="344.85" r="4.75"/>
<line x1="240.89" y1="373.23" x2="375.35" y2="373.23" stroke="#000" stroke-width="1.8"/>
<circle cx="240.89" cy="373.23" r="3.5"/><circle cx="375.35" cy="373.23" r="3.5"/>
<circle cx="291.69" cy="373.23" r="4.75"/>
<line x1="290.2" y1="401.6" x2="339.5" y2="401.6" stroke="#000" stroke-width="1.8"/>
<circle cx="290.2" cy="401.6" r="3.5"/><circle cx="339.5" cy="401.6" r="3.5"/>
<circle cx="314.1" cy="401.6" r="4.75"/>
<line x1="318.58" y1="429.98" x2="366.39" y2="429.98" stroke="#000" stroke-width="1.8"/>
<circle cx="318.58" cy="429.98" r="3.5"/><circle cx="366.39" cy="429.98" r="3.5"/>
<circle cx="340.99" cy="429.98" r="4.75"/>
<line x1="290.2" y1="458.35" x2="349.96" y2="458.35" stroke="#000" stroke-width="1.8"/>
<circle cx="290.2" cy="458.35" r="3.5"/><circle cx="349.96" cy="458.35" r="3.5"/>
<circle cx="317.09" cy="458.35" r="4.75"/>
<line x1="589" y1="486.73" x2="798.16" y2="486.73" stroke="#000" stroke-width="1.8"/>
<circle cx="589" cy="486.73" r="3.5"/><circle cx="798.16" cy="486.73" r="3.5"/>
<circle cx="683.12" cy="486.73" r="4.75"/>
<line x1="311.11" y1="515.1" x2="317.09" y2="515.1" stroke="#000" stroke-width="1.8"/>
<circle cx="311.11" cy="515.1" r="3.5"/><circle cx="317.09" cy="515.1" r="3.5"/>
<circle cx="314.1" cy="515.1" r="4.75"/>
</g>
<g transform="translate(987.8,577.6)">
<text x="5.3" y="18.9" font-size="18" stroke="#000">2D</text>
<text x="538.2" y="32.6" font-size="18.3" text-anchor="middle" stroke="#000">0 0 1 0 (N = 233)</text>
<line x1="314.1" y1="531.9" x2="314.1" y2="43.9" stroke="#000" stroke-width="1.9" stroke-dasharray="5.89 5.89"/>
<line x1="123.6" y1="61.1" x2="127.35" y2="61.1" stroke="#111" stroke-width="1.6"/>
<text x="120.3" y="65.35" font-size="12.2" text-anchor="end">Comorbidity</text>
<line x1="123.6" y1="89.47" x2="127.35" y2="89.47" stroke="#111" stroke-width="1.6"/>
<text x="120.3" y="93.72" font-size="12.2" text-anchor="end">BMI_Level3</text>
<line x1="123.6" y1="117.85" x2="127.35" y2="117.85" stroke="#111" stroke-width="1.6"/>
<text x="120.3" y="122.1" font-size="12.2" text-anchor="end">BMI_Level2</text>
<line x1="123.6" y1="146.22" x2="127.35" y2="146.22" stroke="#111" stroke-width="1.6"/>
<text x="120.3" y="150.47" font-size="12.2" text-anchor="end">Alcohol4</text>
<line x1="123.6" y1="174.6" x2="127.35" y2="174.6" stroke="#111" stroke-width="1.6"/>
<text x="120.3" y="178.85" font-size="12.2" text-anchor="end">Alcohol3</text>
<line x1="123.6" y1="202.97" x2="127.35" y2="202.97" stroke="#111" stroke-width="1.6"/>
<text x="120.3" y="207.22" font-size="12.2" text-anchor="end">Alcohol2</text>
<line x1="123.6" y1="231.35" x2="127.35" y2="231.35" stroke="#111" stroke-width="1.6"/>
<text x="120.3" y="235.6" font-size="12.2" text-anchor="end">Smoking3</text>
<line x1="123.6" y1="259.73" x2="127.35" y2="259.73" stroke="#111" stroke-width="1.6"/>
<text x="120.3" y="263.98" font-size="12.2" text-anchor="end">Smoking2</text>
<line x1="123.6" y1="288.1" x2="127.35" y2="288.1" stroke="#111" stroke-width="1.6"/>
<text x="120.3" y="292.35" font-size="12.2" text-anchor="end">Education4</text>
<line x1="123.6" y1="316.48" x2="127.35" y2="316.48" stroke="#111" stroke-width="1.6"/>
<text x="120.3" y="320.73" font-size="12.2" text-anchor="end">Education3</text>
<line x1="123.6" y1="344.85" x2="127.35" y2="344.85" stroke="#111" stroke-width="1.6"/>
<text x="120.3" y="349.1" font-size="12.2" text-anchor="end">Education2</text>
<line x1="123.6" y1="373.23" x2="127.35" y2="373.23" stroke="#111" stroke-width="1.6"/>
<text x="120.3" y="377.48" font-size="12.2" text-anchor="end">Insurance1</text>
<line x1="123.6" y1="401.6" x2="127.35" y2="401.6" stroke="#111" stroke-width="1.6"/>
<text x="120.3" y="405.85" font-size="12.2" text-anchor="end">Income1</text>
<line x1="123.6" y1="429.98" x2="127.35" y2="429.98" stroke="#111" stroke-width="1.6"/>
<text x="120.3" y="434.23" font-size="12.2" text-anchor="end">Area1</text>
<line x1="123.6" y1="458.35" x2="127.35" y2="458.35" stroke="#111" stroke-width="1.6"/>
<text x="120.3" y="462.6" font-size="12.2" text-anchor="end">Marital_status1</text>
<line x1="123.6" y1="486.73" x2="127.35" y2="486.73" stroke="#111" stroke-width="1.6"/>
<text x="120.3" y="490.98" font-size="12.2" text-anchor="end">Gender1</text>
<line x1="123.6" y1="515.1" x2="127.35" y2="515.1" stroke="#111" stroke-width="1.6"/>
<text x="120.3" y="519.35" font-size="12.2" text-anchor="end">Age</text>
<line x1="164.7" y1="531.9" x2="164.7" y2="535.65" stroke="#111" stroke-width="1.7"/>
<text x="164.7" y="547.3" font-size="12" text-anchor="middle" fill="#4d4d4d">0.0</text>
<line x1="239.4" y1="531.9" x2="239.4" y2="535.65" stroke="#111" stroke-width="1.7"/>
<text x="239.4" y="547.3" font-size="12" text-anchor="middle" fill="#4d4d4d">0.5</text>
<line x1="314.1" y1="531.9" x2="314.1" y2="535.65" stroke="#111" stroke-width="1.7"/>
<text x="314.1" y="547.3" font-size="12" text-anchor="middle" fill="#4d4d4d">1.0</text>
<line x1="388.8" y1="531.9" x2="388.8" y2="535.65" stroke="#111" stroke-width="1.7"/>
<text x="388.8" y="547.3" font-size="12" text-anchor="middle" fill="#4d4d4d">1.5</text>
<line x1="463.5" y1="531.9" x2="463.5" y2="535.65" stroke="#111" stroke-width="1.7"/>
<text x="463.5" y="547.3" font-size="12" text-anchor="middle" fill="#4d4d4d">2.0</text>
<line x1="538.2" y1="531.9" x2="538.2" y2="535.65" stroke="#111" stroke-width="1.7"/>
<text x="538.2" y="547.3" font-size="12" text-anchor="middle" fill="#4d4d4d">2.5</text>
<line x1="612.9" y1="531.9" x2="612.9" y2="535.65" stroke="#111" stroke-width="1.7"/>
<text x="612.9" y="547.3" font-size="12" text-anchor="middle" fill="#4d4d4d">3.0</text>
<line x1="687.6" y1="531.9" x2="687.6" y2="535.65" stroke="#111" stroke-width="1.7"/>
<text x="687.6" y="547.3" font-size="12" text-anchor="middle" fill="#4d4d4d">3.5</text>
<line x1="762.3" y1="531.9" x2="762.3" y2="535.65" stroke="#111" stroke-width="1.7"/>
<text x="762.3" y="547.3" font-size="12" text-anchor="middle" fill="#4d4d4d">4.0</text>
<line x1="837" y1="531.9" x2="837" y2="535.65" stroke="#111" stroke-width="1.7"/>
<text x="837" y="547.3" font-size="12" text-anchor="middle" fill="#4d4d4d">4.5</text>
<line x1="911.7" y1="531.9" x2="911.7" y2="535.65" stroke="#111" stroke-width="1.7"/>
<text x="911.7" y="547.3" font-size="12" text-anchor="middle" fill="#4d4d4d">5.0</text>
<line x1="127.35" y1="43.9" x2="127.35" y2="531.9" stroke="#000" stroke-width="2.0"/>
<line x1="127.35" y1="531.9" x2="949.05" y2="531.9" stroke="#000" stroke-width="2.0"/>
<text x="538.2" y="563.8" font-size="15.6" text-anchor="middle" stroke="#000">OR</text>
<text transform="translate(37.9,287.9) rotate(-90)" x="0" y="0" font-size="15.6" text-anchor="middle" stroke="#000">Variables</text>
<text x="612.9" y="55" font-size="11.8" fill="#ff0000" stroke="#ff0000" stroke-width="0.2">1.29(1.12-1.48), <tspan font-style="italic">P</tspan> &lt; 0.05</text>
<text x="612.9" y="83.38" font-size="11.8" fill="#000000" stroke="#000000" stroke-width="0.2">1.05(0.72-1.52), <tspan font-style="italic">P</tspan> = 0.85</text>
<text x="612.9" y="111.75" font-size="11.8" fill="#000000" stroke="#000000" stroke-width="0.2">1.14(0.85-1.51), <tspan font-style="italic">P</tspan> = 0.44</text>
<text x="612.9" y="140.12" font-size="11.8" fill="#000000" stroke="#000000" stroke-width="0.2">0.94(0.60-1.47), <tspan font-style="italic">P</tspan> = 0.85</text>
<text x="612.9" y="168.5" font-size="11.8" fill="#000000" stroke="#000000" stroke-width="0.2">1.26(0.62-2.54), <tspan font-style="italic">P</tspan> = 0.89</text>
<text x="612.9" y="196.88" font-size="11.8" fill="#000000" stroke="#000000" stroke-width="0.2">0.84(0.40-1.77), <tspan font-style="italic">P</tspan> = 0.70</text>
<text x="612.9" y="225.25" font-size="11.8" fill="#000000" stroke="#000000" stroke-width="0.2">1.05(0.68-1.61), <tspan font-style="italic">P</tspan> = 0.82</text>
<text x="612.9" y="253.63" font-size="11.8" fill="#000000" stroke="#000000" stroke-width="0.2">1.12(0.56-2.26), <tspan font-style="italic">P</tspan> = 0.86</text>
<text x="612.9" y="282" font-size="11.8" fill="#000000" stroke="#000000" stroke-width="0.2">2.15(1.01-4.61), <tspan font-style="italic">P</tspan> = 0.10</text>
<text x="612.9" y="310.38" font-size="11.8" fill="#ff0000" stroke="#ff0000" stroke-width="0.2">1.92(1.22-3.03), <tspan font-style="italic">P</tspan> &lt; 0.05</text>
<text x="612.9" y="338.75" font-size="11.8" fill="#000000" stroke="#000000" stroke-width="0.2">1.41(1.01-1.95), <tspan font-style="italic">P</tspan> = 0.20</text>
<text x="612.9" y="367.12" font-size="11.8" fill="#000000" stroke="#000000" stroke-width="0.2">0.53(0.24-1.18), <tspan font-style="italic">P</tspan> = 0.36</text>
<text x="612.9" y="395.5" font-size="11.8" fill="#000000" stroke="#000000" stroke-width="0.2">1.20(0.88-1.63), <tspan font-style="italic">P</tspan> = 0.54</text>
<text x="612.9" y="423.88" font-size="11.8" fill="#ff0000" stroke="#ff0000" stroke-width="0.2">1.62(1.23-2.14), <tspan font-style="italic">P</tspan> &lt; 0.05</text>
<text x="612.9" y="452.25" font-size="11.8" fill="#000000" stroke="#000000" stroke-width="0.2">1.39(0.87-2.20), <tspan font-style="italic">P</tspan> = 0.49</text>
<text x="612.9" y="480.62" font-size="11.8" fill="#ff0000" stroke="#ff0000" stroke-width="0.2">1.60(1.14-2.25), <tspan font-style="italic">P</tspan> &lt; 0.05</text>
<text x="612.9" y="509" font-size="11.8" fill="#000000" stroke="#000000" stroke-width="0.2">1.04(1.00-1.09), <tspan font-style="italic">P</tspan> = 0.12</text>
<line x1="332.03" y1="61.1" x2="385.81" y2="61.1" stroke="#000" stroke-width="1.8"/>
<circle cx="332.03" cy="61.1" r="3.5"/><circle cx="385.81" cy="61.1" r="3.5"/>
<circle cx="357.43" cy="61.1" r="4.75"/>
<line x1="272.27" y1="89.47" x2="391.79" y2="89.47" stroke="#000" stroke-width="1.8"/>
<circle cx="272.27" cy="89.47" r="3.5"/><circle cx="391.79" cy="89.47" r="3.5"/>
<circle cx="321.57" cy="89.47" r="4.75"/>
<line x1="291.69" y1="117.85" x2="390.29" y2="117.85" stroke="#000" stroke-width="1.8"/>
<circle cx="291.69" cy="117.85" r="3.5"/><circle cx="390.29" cy="117.85" r="3.5"/>
<circle cx="335.02" cy="117.85" r="4.75"/>
<line x1="254.34" y1="146.22" x2="384.32" y2="146.22" stroke="#000" stroke-width="1.8"/>
<circle cx="254.34" cy="146.22" r="3.5"/><circle cx="384.32" cy="146.22" r="3.5"/>
<circle cx="305.14" cy="146.22" r="4.75"/>
<line x1="257.33" y1="174.6" x2="544.18" y2="174.6" stroke="#000" stroke-width="1.8"/>
<circle cx="257.33" cy="174.6" r="3.5"/><circle cx="544.18" cy="174.6" r="3.5"/>
<circle cx="352.94" cy="174.6" r="4.75"/>
<line x1="224.46" y1="202.97" x2="429.14" y2="202.97" stroke="#000" stroke-width="1.8"/>
<circle cx="224.46" cy="202.97" r="3.5"/><circle cx="429.14" cy="202.97" r="3.5"/>
<circle cx="290.2" cy="202.97" r="4.75"/>
<line x1="266.29" y1="231.35" x2="405.23" y2="231.35" stroke="#000" stroke-width="1.8"/>
<circle cx="266.29" cy="231.35" r="3.5"/><circle cx="405.23" cy="231.35" r="3.5"/>
<circle cx="321.57" cy="231.35" r="4.75"/>
<line x1="248.36" y1="259.73" x2="502.34" y2="259.73" stroke="#000" stroke-width="1.8"/>
<circle cx="248.36" cy="259.73" r="3.5"/><circle cx="502.34" cy="259.73" r="3.5"/>
<circle cx="332.03" cy="259.73" r="4.75"/>
<line x1="315.59" y1="288.1" x2="853.43" y2="288.1" stroke="#000" stroke-width="1.8"/>
<circle cx="315.59" cy="288.1" r="3.5"/><circle cx="853.43" cy="288.1" r="3.5"/>
<circle cx="485.91" cy="288.1" r="4.75"/>
<line x1="346.97" y1="316.48" x2="617.38" y2="316.48" stroke="#000" stroke-width="1.8"/>
<circle cx="346.97" cy="316.48" r="3.5"/><circle cx="617.38" cy="316.48" r="3.5"/>
<circle cx="451.55" cy="316.48" r="4.75"/>
<line x1="315.59" y1="344.85" x2="456.03" y2="344.85" stroke="#000" stroke-width="1.8"/>
<circle cx="315.59" cy="344.85" r="3.5"/><circle cx="456.03" cy="344.85" r="3.5"/>
<circle cx="375.35" cy="344.85" r="4.75"/>
<line x1="200.56" y1="373.23" x2="340.99" y2="373.23" stroke="#000" stroke-width="1.8"/>
<circle cx="200.56" cy="373.23" r="3.5"/><circle cx="340.99" cy="373.23" r="3.5"/>
<circle cx="243.88" cy="373.23" r="4.75"/>
<line x1="296.17" y1="401.6" x2="408.22" y2="401.6" stroke="#000" stroke-width="1.8"/>
<circle cx="296.17" cy="401.6" r="3.5"/><circle cx="408.22" cy="401.6" r="3.5"/>
<circle cx="343.98" cy="401.6" r="4.75"/>
<line x1="348.46" y1="429.98" x2="484.42" y2="429.98" stroke="#000" stroke-width="1.8"/>
<circle cx="348.46" cy="429.98" r="3.5"/><circle cx="484.42" cy="429.98" r="3.5"/>
<circle cx="406.73" cy="429.98" r="4.75"/>
<line x1="294.68" y1="458.35" x2="493.38" y2="458.35" stroke="#000" stroke-width="1.8"/>
<circle cx="294.68" cy="458.35" r="3.5"/><circle cx="493.38" cy="458.35" r="3.5"/>
<circle cx="372.37" cy="458.35" r="4.75"/>
<line x1="335.02" y1="486.73" x2="500.85" y2="486.73" stroke="#000" stroke-width="1.8"/>
<circle cx="335.02" cy="486.73" r="3.5"/><circle cx="500.85" cy="486.73" r="3.5"/>
<circle cx="403.74" cy="486.73" r="4.75"/>
<line x1="314.1" y1="515.1" x2="327.55" y2="515.1" stroke="#000" stroke-width="1.8"/>
<circle cx="314.1" cy="515.1" r="3.5"/><circle cx="327.55" cy="515.1" r="3.5"/>
<circle cx="320.08" cy="515.1" r="4.75"/>
</g>
</svg></body></html>
